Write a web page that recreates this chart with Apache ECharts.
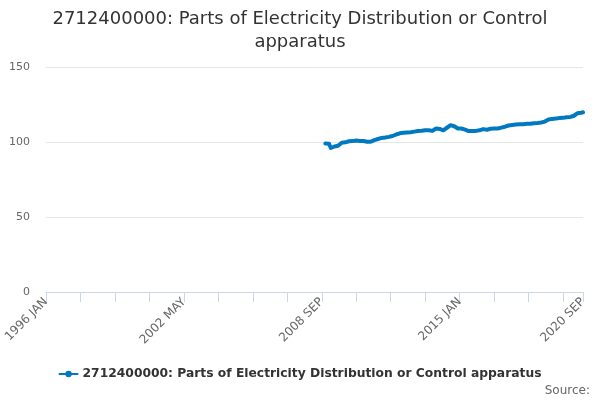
<!DOCTYPE html>
<html>
<head>
<meta charset="utf-8">
<script src="https://cdn.jsdelivr.net/npm/echarts@6/dist/echarts.min.js"></script>
<style>
  html, body { margin: 0; padding: 0; background: #fff; }
  #chart { width: 600px; height: 400px; }
</style>
</head>
<body>
<div id="chart"></div>
<script>
// Monthly axis, 1996 JAN .. 2020 SEP
const monthNames = ['JAN', 'FEB', 'MAR', 'APR', 'MAY', 'JUN', 'JUL', 'AUG', 'SEP', 'OCT', 'NOV', 'DEC'];
const firstYear = 1996;
const monthCount = 297;

// series starts at 2008 NOV
const seriesStart = 154;
const seriesValues = [
  99, 99, 98.8, 96, 95.5, 97, 97.5, 97.5, 98, 99.5,
  99.8, 99.8, 100.3, 100.5, 100.9, 100.6, 100.8, 101, 100.8, 100.7,
  101, 100.7, 100.5, 100.2, 100, 100.2, 100.6, 101.2, 101.8, 102,
  102.3, 102.7, 103, 103, 103.2, 103.4, 103.5, 104, 104.5, 105,
  105.4, 105.8, 106, 106.2, 106.3, 106.4, 106.5, 106.5, 106.7, 106.9,
  107.2, 107.3, 107.3, 107.5, 107.6, 107.8, 108, 107.8, 107.5, 107.4,
  108, 109, 109.5, 108.7, 108, 107.8, 108.2, 109.5, 110.6, 111.2,
  111.3, 110.5, 109.5, 109, 108.8, 109, 109.2, 108.3, 107.5, 107.3,
  107.2, 107.3, 107.2, 107.4, 107.3, 107.8, 108.3, 108.6, 108.4, 108.2,
  108.4, 108.8, 108.7, 109, 109.2, 109, 109.3, 109.6, 109.8, 110.2,
  110.7, 111, 111.3, 111.3, 111.5, 111.6, 111.7, 111.8, 111.8, 111.9,
  112, 112.1, 112.2, 112.2, 112.4, 112.5, 112.6, 112.7, 112.9, 113,
  113.3, 113.6, 114.5, 115, 115.2, 115.4, 115.6, 115.6, 115.8, 116,
  116.2, 116.1, 116.3, 116.5, 116.4, 116.7, 116.9, 117.5, 118.8, 119.2,
  119.3, 119.5, 119.8
];

const seriesName = '2712400000: Parts of Electricity Distribution or Control apparatus';

const categories = [];
for (let i = 0; i < monthCount; i++) {
  categories.push((firstYear + Math.floor(i / 12)) + ' ' + monthNames[i % 12]);
}
const data = [];
for (let i = 0; i < monthCount; i++) {
  const k = i - seriesStart;
  data.push(k >= 0 && k < seriesValues.length ? seriesValues[k] : null);
}

const last = monthCount - 1;
const chart = echarts.init(document.getElementById('chart'));

chart.setOption({
  animation: false,
  textStyle: { fontFamily: 'DejaVu Sans' },
  title: {
    text: '2712400000: Parts of Electricity Distribution or Control\napparatus',
    left: 'center',
    top: 3,
    textStyle: { fontSize: 18, fontWeight: 'normal', color: '#333', lineHeight: 23 }
  },
  legend: {
    bottom: 15,
    left: 'center',
    itemWidth: 18,
    itemHeight: 8,
    textStyle: { fontSize: 12.3, fontWeight: 'bold', color: '#333' },
    data: [seriesName]
  },
  graphic: [{
    type: 'text',
    right: 10,
    bottom: 3,
    style: { text: 'Source:', fontSize: 12, fill: '#666', fontFamily: 'DejaVu Sans' }
  }],
  grid: { left: 46, right: 17, top: 67, bottom: 108 },
  xAxis: {
    type: 'category',
    data: categories,
    boundaryGap: false,
    axisLine: { lineStyle: { color: '#ccd6eb' } },
    axisTick: {
      length: 10,
      lineStyle: { color: '#ccd6eb' },
      interval: (i) => i % 19 === 0 || i === last
    },
    axisLabel: {
      rotate: 45,
      fontSize: 12,
      color: '#666',
      margin: 8,
      interval: (i) => i % 76 === 0 || i === last
    },
    splitLine: { show: false }
  },
  yAxis: {
    type: 'value',
    min: 0,
    max: 150,
    interval: 50,
    axisLabel: { fontSize: 11, color: '#666', margin: 16 },
    splitLine: { lineStyle: { color: '#e6e6e6' } }
  },
  series: [{
    name: seriesName,
    type: 'line',
    data: data,
    showSymbol: false,
    symbol: 'circle',
    symbolSize: 5,
    color: '#0079c1',
    lineStyle: { width: 4, cap: 'round', join: 'round' }
  }]
});
</script>
</body>
</html>
